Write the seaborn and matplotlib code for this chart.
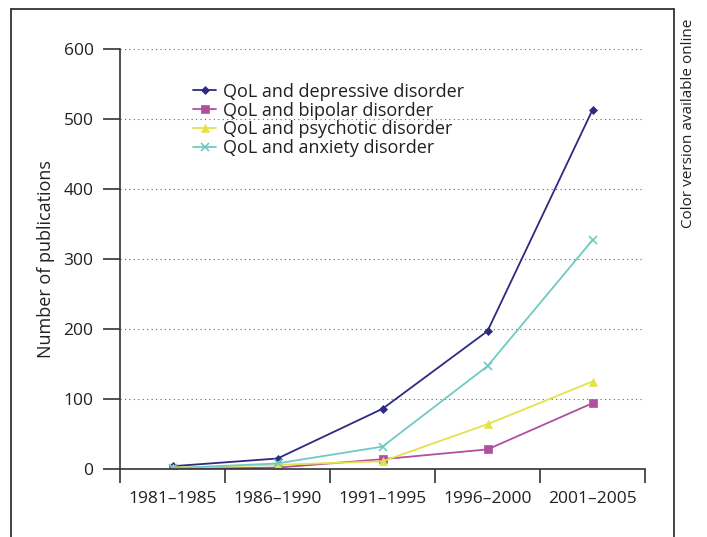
import matplotlib
matplotlib.use("Agg")
import matplotlib.pyplot as plt
import pandas as pd
import seaborn as sns

periods = ["1981–1985", "1986–1990", "1991–1995", "1996–2000", "2001–2005"]
depressive = [4, 15, 86, 197, 513]
bipolar = [0, 2, 14, 28, 94]
psychotic = [2, 6, 11, 64, 125]
anxiety = [1, 8, 32, 147, 327]

labels = ["QoL and depressive disorder", "QoL and bipolar disorder",
          "QoL and psychotic disorder", "QoL and anxiety disorder"]
series = [depressive, bipolar, psychotic, anxiety]
colors = ["#2d2a82", "#b14f9f", "#e4e24a", "#6fcac3"]
markers = ["D", "s", "^", "x"]
msizes = [3.8, 5.5, 6, 5.5]

rows = []
for lab, vals in zip(labels, series):
    for i, (p, v) in enumerate(zip(periods, vals)):
        rows.append({"period": p, "idx": i, "count": v, "group": lab})
df = pd.DataFrame(rows)

sns.set_style("white")
plt.rcParams["font.family"] = ["Open Sans", "DejaVu Sans"]

fig = plt.figure(figsize=(7.07, 5.37), dpi=100)
ax = fig.add_axes([120 / 707, 1 - 469 / 537, 525 / 707, 420 / 537])

for lab, col, mk, ms in zip(labels, colors, markers, msizes):
    sub = df[df["group"] == lab]
    sns.lineplot(data=sub, x="idx", y="count", ax=ax, color=col, marker=mk,
                 markersize=ms, markeredgecolor=col,
                 markeredgewidth=1.2 if mk == "x" else 0.5,
                 linewidth=1.3, label=lab, sort=False)

ax.set_xlim(-0.5, 4.5)
ax.set_ylim(0, 600)
ax.set_xticks([i - 0.5 for i in range(6)])
ax.set_xticklabels([])
ax.set_xticks(range(5), minor=True)
ax.set_xticklabels(periods, minor=True)
ax.tick_params(axis="x", which="both", bottom=True)
ax.tick_params(axis="y", which="both", left=True)
ax.tick_params(axis="x", which="major", direction="out", length=10, width=1.2, color="#333333")
ax.tick_params(axis="x", which="minor", length=0, pad=16, labelsize=12.5, labelcolor="#231f20")
ax.set_yticks(range(0, 601, 100))
ax.tick_params(axis="y", direction="out", length=12, width=1.2, color="#333333",
               pad=7, labelsize=12.5, labelcolor="#231f20")
ax.set_xlabel("")
ax.set_ylabel("Number of publications", fontsize=13, color="#231f20", labelpad=6)

for y in range(100, 601, 100):
    ax.axhline(y, color="#666666", linestyle=(0, (1, 3)), linewidth=0.8, zorder=0)

for side in ["top", "right"]:
    ax.spines[side].set_visible(False)
for side in ["left", "bottom"]:
    ax.spines[side].set_color("#333333")
    ax.spines[side].set_linewidth(1.2)
ax.spines["left"].set_bounds(0, 600)

leg = ax.legend(loc="upper left", bbox_to_anchor=(0.125, 0.937), frameon=False,
                fontsize=13, handlelength=1.3, handletextpad=0.35,
                labelspacing=0.05, borderaxespad=0)
for t in leg.get_texts():
    t.set_color("#231f20")

# outer frame around the figure (no bottom edge)
frame_kw = dict(transform=fig.transFigure, color="#222222", linewidth=1.2)
fig.add_artist(plt.Line2D([11 / 707, 11 / 707], [0, 1 - 9 / 537], **frame_kw))
fig.add_artist(plt.Line2D([11 / 707, 673.5 / 707], [1 - 9 / 537, 1 - 9 / 537], **frame_kw))
fig.add_artist(plt.Line2D([673.5 / 707, 673.5 / 707], [0, 1 - 9 / 537], **frame_kw))

fig.text(689 / 707, 1 - 19 / 537, "Color version available online", rotation=90,
         ha="center", va="top", fontsize=11, color="#231f20")

fig.savefig("out.png", dpi=100)
